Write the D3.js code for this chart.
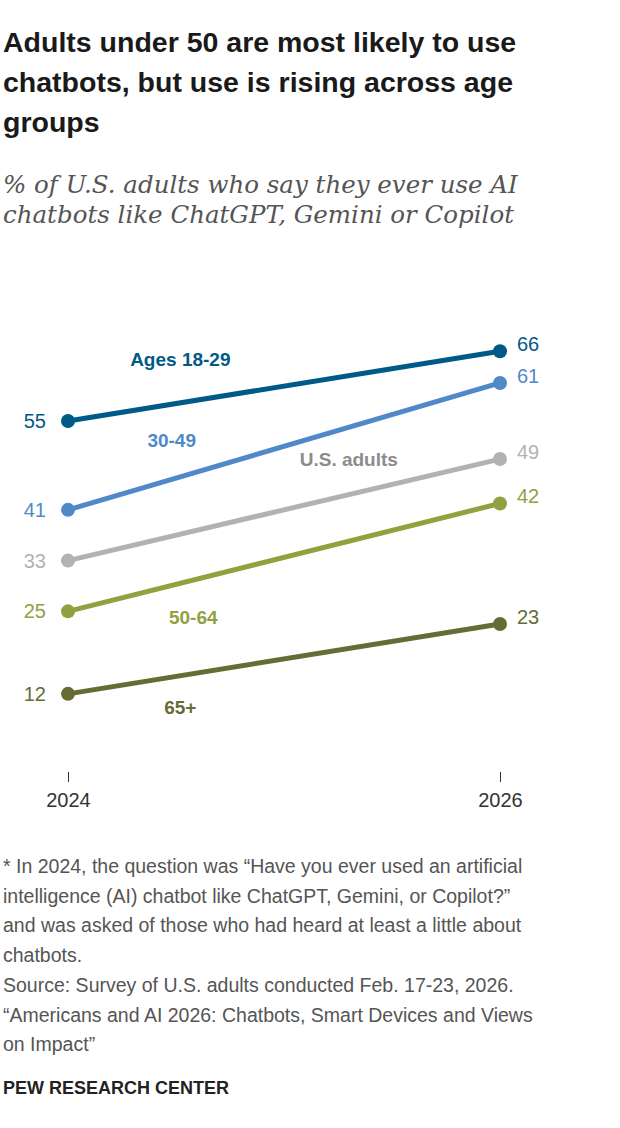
<!DOCTYPE html>
<html><head><meta charset="utf-8">
<script src="https://cdn.jsdelivr.net/npm/d3@7"></script>
<style>body{margin:0;background:#fff}</style>
</head><body>
<div id="chart"></div>
<script>
const years = ["2024", "2026"];
const groups = ["Ages 18-29", "30-49", "U.S. adults", "50-64", "65+"];
const v2024 = [55, 41, 33, 25, 12];
const v2026 = [66, 61, 49, 42, 23];
const colors = ["#005a87", "#4f89c8", "#b2b2b2", "#93a03f", "#676b36"];
// label positions (year-fraction, value) for series names
const nameAt = [[0.26, 63.6], [0.24, 50.9], [0.65, 47.9], [0.29, 23], [0.26, 8.8]];
const titleLines = ["Adults under 50 are most likely to use", "chatbots, but use is rising across age", "groups"];
const subLines = ["% of U.S. adults who say they ever use AI", "chatbots like ChatGPT, Gemini or Copilot"];
const noteLines = [
  "* In 2024, the question was \u201cHave you ever used an artificial",
  "intelligence (AI) chatbot like ChatGPT, Gemini, or Copilot?\u201d",
  "and was asked of those who had heard at least a little about",
  "chatbots.",
  "Source: Survey of U.S. adults conducted Feb. 17-23, 2026.",
  "\u201cAmericans and AI 2026: Chatbots, Smart Devices and Views",
  "on Impact\u201d"
];

const svg = d3.select("#chart").append("svg").attr("width", 620).attr("height", 1128)
  .style("font-family", "'Liberation Sans', Arial, sans-serif");

svg.selectAll(".title").data(titleLines).enter().append("text")
  .attr("x", 3).attr("y", (d, i) => 52 + i * 40)
  .style("font-size", "28.5px").style("font-weight", "700").style("fill", "#1a1a1a").text(d => d);
svg.selectAll(".sub").data(subLines).enter().append("text")
  .attr("x", 3).attr("y", (d, i) => 193 + i * 30)
  .style("font-family", "'DejaVu Serif', serif").style("font-style", "italic")
  .style("font-size", "24.5px").style("fill", "#555").text(d => d);

const x = d3.scaleLinear().domain([0, 1]).range([68, 500]);
const y = d3.scaleLinear().domain([0, 55]).range([770, 421]);

// axis
const axis = svg.append("g").attr("transform", "translate(0,772)")
  .call(d3.axisBottom(x).tickValues([0, 1]).tickFormat((d, i) => years[i]).tickSize(10));
axis.select(".domain").remove();
axis.selectAll("line").attr("stroke", "#333").attr("y2", 10);
axis.selectAll("text").attr("dy", "1.1em").style("font-size", "20px").style("fill", "#333")
  .style("font-family", "'Liberation Sans', sans-serif");

const line = d3.line().x(d => x(d[0])).y(d => y(d[1]));
groups.forEach((g, i) => {
  const pts = [[0, v2024[i]], [1, v2026[i]]];
  svg.append("path").datum(pts).attr("d", line).attr("stroke", colors[i])
    .attr("stroke-width", 5).attr("fill", "none");
  svg.selectAll(null).data(pts).enter().append("circle")
    .attr("cx", d => x(d[0])).attr("cy", d => y(d[1])).attr("r", 7).attr("fill", colors[i]);
  svg.append("text").attr("x", x(0) - 22).attr("y", y(v2024[i]) + 7).attr("text-anchor", "end")
    .style("font-size", "20px").style("fill", colors[i]).text(v2024[i]);
  svg.append("text").attr("x", x(1) + 17).attr("y", y(v2026[i]) + 0).attr("text-anchor", "start")
    .style("font-size", "20px").style("fill", colors[i]).text(v2026[i]);
  svg.append("text").attr("x", x(nameAt[i][0])).attr("y", y(nameAt[i][1]))
    .attr("text-anchor", "middle").style("font-size", "19px").style("font-weight", "700")
    .style("fill", i === 2 ? "#8c8c8c" : colors[i]).text(g);
});

svg.selectAll(".note").data(noteLines).enter().append("text")
  .attr("x", 3).attr("y", (d, i) => 873 + i * 29.7)
  .style("font-size", "19.5px").style("fill", "#555").text(d => d);
svg.append("text").attr("x", 3).attr("y", 1094).style("font-size", "18px")
  .style("font-weight", "700").style("fill", "#222").text("PEW RESEARCH CENTER");
</script>
</body></html>
